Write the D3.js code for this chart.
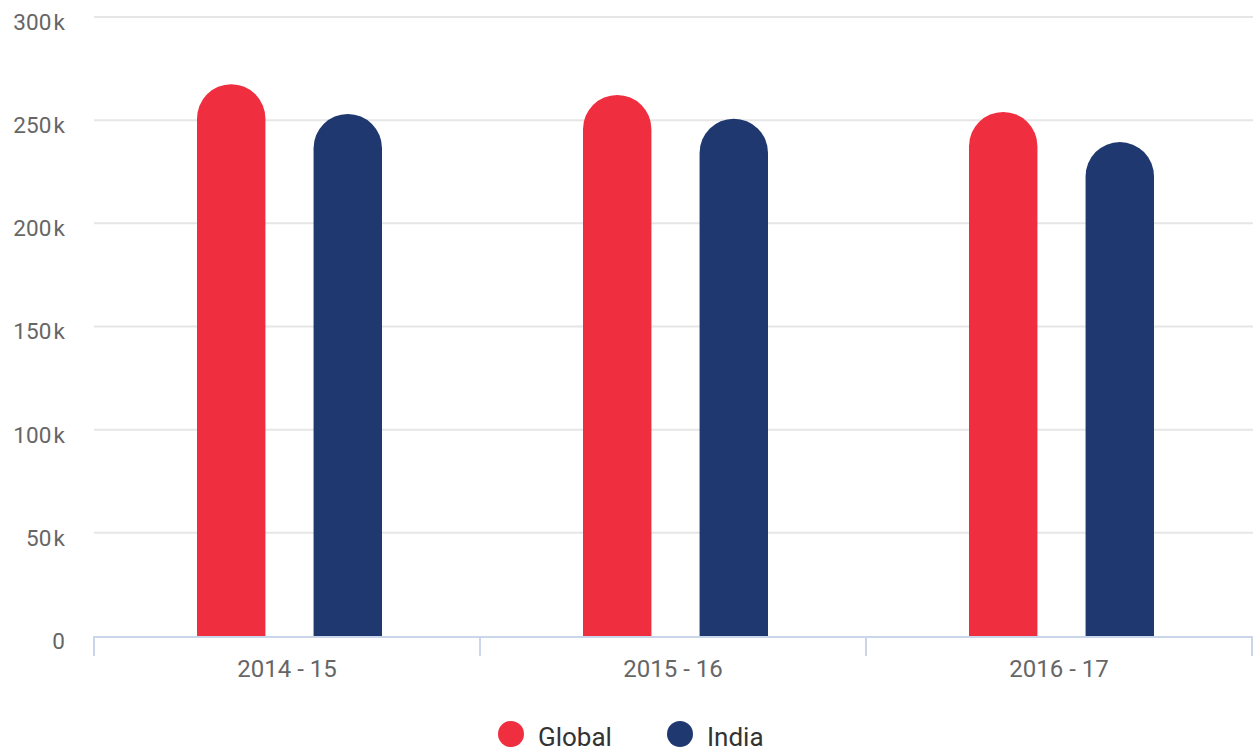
<!DOCTYPE html>
<html lang="en">
<head>
    <meta charset="utf-8">
    <title>Global vs India</title>
    <script src="https://d3js.org/d3.v7.min.js"></script>
    <style>
        body { margin: 0; background: #fff; }
        text { font-family: Roboto, "Noto Sans", sans-serif; }
    </style>
</head>
<body>
    <div id="chart"></div>
    <script>
        // data
        var categories = ["2014 - 15", "2015 - 16", "2016 - 17"];
        var seriesNames = ["Global", "India"];
        var globalValues = [267400, 262200, 254000];
        var indiaValues = [253000, 250700, 239400];
        var yTicks = [0, 50000, 100000, 150000, 200000, 250000, 300000];
        var colors = ["#ef2e3f", "#1f386f"];

        var width = 1253, height = 751;
        var margin = { top: 17, right: 1, bottom: 115, left: 94 };

        var svg = d3.select("#chart")
            .append("svg")
            .attr("width", width)
            .attr("height", height);

        var y = d3.scaleLinear()
            .domain([0, 300000])
            .range([height - margin.bottom, margin.top]);

        var x0 = d3.scaleBand()
            .domain(categories)
            .range([margin.left, width - margin.right])
            .padding(0);

        // bars sit a little right of the band centre, like the original
        var x1 = d3.scaleBand()
            .domain(seriesNames)
            .range([103, 288])
            .paddingInner(0.413)
            .paddingOuter(0);

        // grid lines
        svg.append("g")
            .selectAll("line")
            .data(yTicks.slice(1))
            .enter()
            .append("line")
            .attr("x1", margin.left)
            .attr("x2", width)
            .attr("y1", function(d) { return y(d); })
            .attr("y2", function(d) { return y(d); })
            .style("stroke", "#e6e6e6")
            .style("stroke-width", 2);

        // y labels
        svg.append("g")
            .selectAll("text")
            .data(yTicks)
            .enter()
            .append("text")
            .attr("x", 65)
            .attr("y", function(d) { return y(d) + 5; })
            .attr("dy", "0.35em")
            .attr("text-anchor", "end")
            .style("fill", "#666")
            .style("font-size", "22.5px")
            .text(function(d) { return d === 0 ? "0" : (d / 1000) + "\u200Ak"; });

        // bars with round tops
        var rows = categories.map(function(c, i) {
            return { cat: c, values: [globalValues[i], indiaValues[i]] };
        });

        function barPath(cat, name, v) {
            var bx = x0(cat) + x1(name);
            var w = x1.bandwidth();
            var r = w / 2;
            var y0 = y(0);
            var yt = y(v);
            return "M" + bx + "," + y0 +
                "L" + bx + "," + (yt + r) +
                "A" + r + "," + r + " 0 0 1 " + (bx + w) + "," + (yt + r) +
                "L" + (bx + w) + "," + y0 + "Z";
        }

        svg.append("g")
            .selectAll("g")
            .data(rows)
            .enter()
            .append("g")
            .selectAll("path")
            .data(function(d) {
                return seriesNames.map(function(n, j) {
                    return { cat: d.cat, name: n, value: d.values[j], color: colors[j] };
                });
            })
            .enter()
            .append("path")
            .attr("d", function(d) { return barPath(d.cat, d.name, d.value); })
            .style("fill", function(d) { return d.color; });

        // x axis
        var axisY = y(0);
        svg.append("line")
            .attr("x1", margin.left)
            .attr("x2", width - margin.right)
            .attr("y1", axisY + 1)
            .attr("y2", axisY + 1)
            .style("stroke", "#ccd6eb")
            .style("stroke-width", 2);

        var tickXs = categories.map(function(c) { return x0(c); }).concat([x0.range()[1]]);
        svg.append("g")
            .selectAll("line")
            .data(tickXs)
            .enter()
            .append("line")
            .attr("x1", function(d) { return d; })
            .attr("x2", function(d) { return d; })
            .attr("y1", axisY)
            .attr("y2", axisY + 20)
            .style("stroke", "#ccd6eb")
            .style("stroke-width", 2);

        svg.append("g")
            .selectAll("text")
            .data(categories)
            .enter()
            .append("text")
            .attr("x", function(d) { return x0(d) + x0.bandwidth() / 2; })
            .attr("y", 669)
            .attr("dy", "0.35em")
            .attr("text-anchor", "middle")
            .style("fill", "#666")
            .style("font-size", "24px")
            .text(function(d) { return d; });

        // legend
        var legendX = [511, 680];
        var legend = svg.append("g")
            .selectAll("g")
            .data(seriesNames)
            .enter()
            .append("g")
            .attr("transform", function(d, i) { return "translate(" + legendX[i] + ",734)"; });

        legend.append("circle")
            .attr("r", 13)
            .style("fill", function(d, i) { return colors[i]; });

        legend.append("text")
            .attr("x", 27)
            .attr("y", 3)
            .attr("dy", "0.35em")
            .style("fill", "#333")
            .style("font-size", "26px")
            .text(function(d) { return d; });
    </script>
</body>
</html>
